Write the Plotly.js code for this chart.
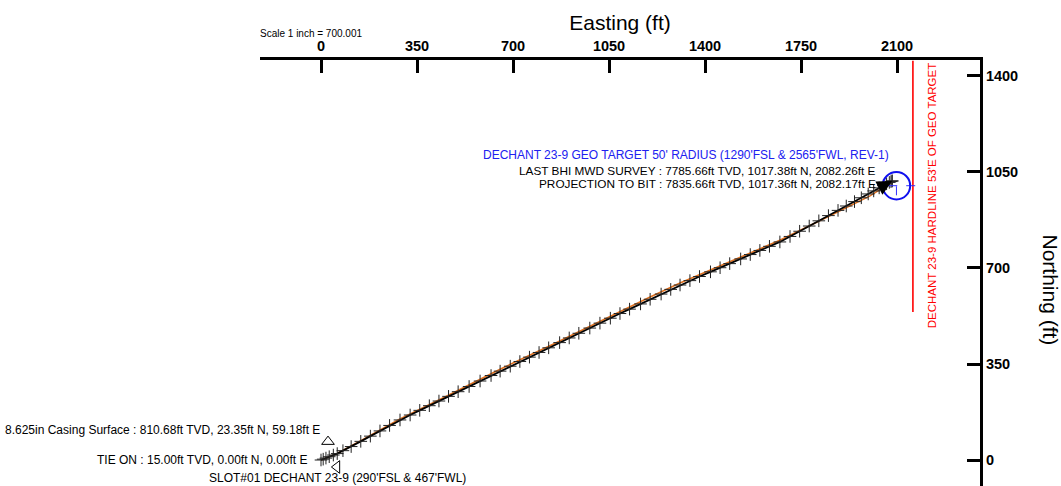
<!DOCTYPE html>
<html>
<head>
<meta charset="utf-8">
<script src="https://cdn.plot.ly/plotly-3.0.1.min.js"></script>
<style>html,body{margin:0;padding:0;background:#fff;}#chart{width:1061px;height:486px;}</style>
</head>
<body>
<div id="chart"></div>
<script>
// Actual survey (black) – Easting / Northing in ft
var surveyE = [0, 8, 18, 30, 45, 59.18, 80, 110, 145, 180, 215, 250, 288, 325, 360, 395, 430, 465, 500, 540, 580, 620, 653, 690, 725, 760, 795, 830, 870, 905, 940, 980, 1017, 1055, 1090, 1125, 1165, 1200, 1240, 1275, 1309, 1345, 1380, 1420, 1455, 1490, 1530, 1565, 1600, 1635, 1673, 1710, 1745, 1780, 1815, 1850, 1885, 1915, 1945, 1970, 1995, 2015, 2035, 2050, 2062, 2072, 2078, 2082.26, 2082.17];
var surveyN = [0, 3, 7, 12, 18, 23.35, 34, 49, 68, 87, 106, 126, 146, 164, 181, 198, 215, 232, 249, 268, 288, 308, 324, 342, 359, 375, 392, 409, 428, 445, 462, 481, 499, 517, 534, 550, 569, 586, 605, 622, 638, 654, 669, 686, 701, 716, 733, 749, 764, 779, 795, 815, 834, 853, 872, 891, 910, 926, 942, 956, 970, 981, 992, 1000, 1007, 1012, 1015, 1017.38, 1017.36];
// Plan (orange)
var planE = [0, 59, 150, 288, 450, 653, 850, 1017, 1200, 1309, 1500, 1673, 1850, 2000, 2082];
var planN = [0, 24, 73, 150, 229, 331, 424, 506, 594, 645, 727, 801, 888, 962, 1013];
// Axis ticks
var xTicks = [0, 350, 700, 1050, 1400, 1750, 2100];
var yTicks = [0, 350, 700, 1050, 1400];
// Target and hardline
var targetE = 2098, targetN = 1000, targetR = 50;
var hardlineE = 2158, hardlineN0 = 540, hardlineN1 = 1456;
// Casing markers
var casingUpE = [25.5], casingUpN = [67];
var casingLeftE = [58], casingLeftN = [-25.5];

var FONT = 'Liberation Sans, Arial, sans-serif';

var traces = [
  {x: planE, y: planN, mode: 'lines', line: {color: '#e0701e', width: 1.6}, hoverinfo: 'skip'},
  {x: surveyE, y: surveyN, mode: 'lines+markers', line: {color: '#000', width: 1.8},
   marker: {symbol: 'cross-thin', size: 9, line: {color: '#222', width: 1}}, hoverinfo: 'skip'},
  {x: casingUpE, y: casingUpN, mode: 'markers', marker: {symbol: 'triangle-up-open', size: 11, color: '#000', line: {width: 1}}, hoverinfo: 'skip'},
  {x: casingLeftE, y: casingLeftN, mode: 'markers', marker: {symbol: 'triangle-left-open', size: 11, color: '#000', line: {width: 1}}, hoverinfo: 'skip'},
  {x: [hardlineE, hardlineE], y: [hardlineN0, hardlineN1], mode: 'lines', line: {color: '#ff0000', width: 1.6}, hoverinfo: 'skip'},
  {x: [targetE - 30, targetE + 85], y: [targetN, targetN], mode: 'lines', line: {color: '#3030ff', width: 1, dash: 'dash'}, hoverinfo: 'skip'},
  {x: [targetE, targetE], y: [targetN - 35, targetN + 25], mode: 'lines', line: {color: '#3030ff', width: 1, dash: 'dash'}, hoverinfo: 'skip'}
];

var nLast = surveyE.length - 1;

var layout = {
  width: 1061, height: 486,
  margin: {l: 260, r: 81, t: 60, b: 0, pad: 0},
  paper_bgcolor: '#fff', plot_bgcolor: '#fff',
  showlegend: false,
  font: {family: FONT, color: '#000'},
  xaxis: {
    side: 'top', range: [-222.4, 2402.6], tickvals: xTicks, ticktext: xTicks.map(String),
    showgrid: false, zeroline: false, showline: true, linewidth: 3, linecolor: '#000',
    ticks: 'inside', ticklen: 13, tickwidth: 3, tickcolor: '#000', ticklabelstandoff: 0,
    tickfont: {family: FONT, size: 14.5, color: '#000', weight: 'bold'},
    title: {text: 'Easting (ft)', font: {family: FONT, size: 21, color: '#000'}, standoff: 2},
    fixedrange: true
  },
  yaxis: {
    side: 'right', range: [-94.8, 1458.3], tickvals: yTicks, ticktext: yTicks.map(String),
    showgrid: false, zeroline: false, showline: true, linewidth: 3, linecolor: '#000',
    ticks: 'inside', ticklen: 13, tickwidth: 3, tickcolor: '#000',
    tickfont: {family: FONT, size: 14.5, color: '#000', weight: 'bold'},
    fixedrange: true
  },
  shapes: [
    {type: 'circle', xref: 'x', yref: 'y', x0: targetE - targetR, x1: targetE + targetR, y0: targetN - targetR, y1: targetN + targetR,
     line: {color: '#1010ee', width: 2}}
  ],
  annotations: [
    {xref: 'paper', yref: 'paper', x: 1.098, y: 0.46, xanchor: 'center', yanchor: 'middle', text: 'Northing (ft)', textangle: 90, showarrow: false,
     font: {family: FONT, size: 21, color: '#000'}},
    {xref: 'paper', yref: 'paper', x: -0.003, y: 1.063, xanchor: 'left', yanchor: 'middle', text: 'Scale 1 inch = 700.001', showarrow: false,
     font: {family: FONT, size: 10, color: '#000'}},
    {x: 2078, y: 1112, xanchor: 'right', text: "DECHANT 23-9 GEO TARGET 50' RADIUS (1290'FSL & 2565'FWL, REV-1)", showarrow: false,
     font: {family: FONT, size: 12, color: '#2020f0'}},
    {x: 2031, y: 1053, xanchor: 'right', text: 'LAST BHI MWD SURVEY : 7785.66ft TVD, 1017.38ft N, 2082.26ft E', showarrow: false,
     font: {family: FONT, size: 11.8, color: '#000'}},
    {x: 2031, y: 1008, xanchor: 'right', text: 'PROJECTION TO BIT : 7835.66ft TVD, 1017.36ft N, 2082.17ft E', showarrow: false,
     font: {family: FONT, size: 11.8, color: '#000'}},
    {x: 3.6, y: 109, xanchor: 'right', text: '8.625in Casing Surface : 810.68ft TVD, 23.35ft N, 59.18ft E', showarrow: false,
     font: {family: FONT, size: 12, color: '#000'}},
    {x: -40, y: 0, xanchor: 'right', text: 'TIE ON : 15.00ft TVD, 0.00ft N, 0.00ft E', showarrow: false,
     font: {family: FONT, size: 12, color: '#000'}},
    {x: 536, y: -65.6, xanchor: 'right', text: "SLOT#01 DECHANT 23-9 (290'FSL & 467'FWL)", showarrow: false,
     font: {family: FONT, size: 12, color: '#000'}},
    {x: 2228, y: 962, text: "DECHANT 23-9 HARDLINE 53'E OF GEO TARGET", textangle: -90, showarrow: false,
     font: {family: FONT, size: 11.5, color: '#ff0000'}},
    {x: surveyE[nLast], y: surveyN[nLast], ax: surveyE[nLast - 6], ay: surveyN[nLast - 6], axref: 'x', ayref: 'y',
     text: '', showarrow: true, arrowhead: 2, arrowsize: 1.5, arrowwidth: 2, arrowcolor: '#000'}
  ]
};

Plotly.newPlot('chart', traces, layout, {displayModeBar: false, staticPlot: true});
</script>
</body>
</html>
